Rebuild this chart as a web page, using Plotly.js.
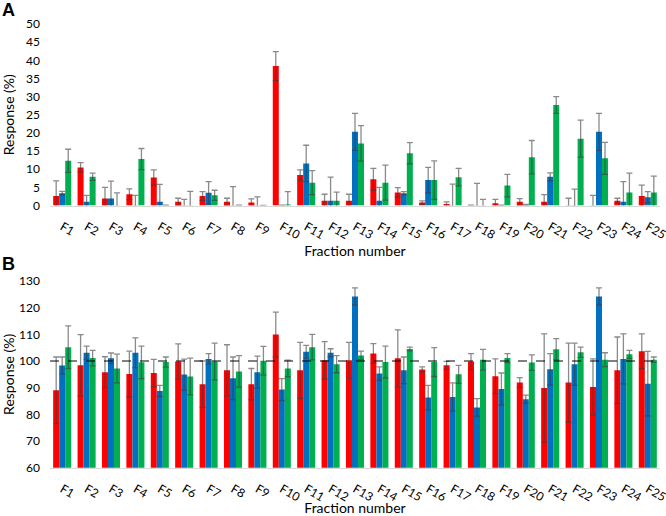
<!DOCTYPE html>
<html><head><meta charset="utf-8">
<script src="https://cdn.plot.ly/plotly-3.0.1.min.js"></script>
<style>html,body{margin:0;padding:0;background:#fff}#chart{width:666px;height:516px}</style>
</head><body><div id="chart"></div>
<script>
const categories = ['F1','F2','F3','F4','F5','F6','F7','F8','F9','F10','F11','F12','F13','F14','F15','F16','F17','F18','F19','F20','F21','F22','F23','F24','F25'];

// Panel A
const aRed      = [2.6,10.5,1.9,3.1,7.7,1.0,2.6,1.0,0.8,38.4,8.4,1.3,1.3,7.2,3.6,0.8,0.4,0.1,0.6,1.0,1.0,0.1,0.1,1.3,2.6];
const aRedErr   = [4.2,1.3,3.1,1.5,2.1,1.0,1.2,1.0,1.0,4.0,1.4,1.8,1.8,3.0,1.3,0.5,0.6,0,1.1,0.9,2.0,1.9,2.7,0.7,3.0];
const aBlue     = [3.4,1.0,1.9,0.1,1.0,0.1,3.5,0.1,0.1,0.1,11.6,1.3,20.3,1.3,3.4,7.0,0.1,0.1,0.1,0.1,7.9,0.1,20.3,1.0,2.3];
const aBlueErr  = [0.5,1.8,4.8,2.7,4.8,1.6,3.1,5.1,2.3,0,5.0,6.5,5.1,3.7,0.4,3.5,5.8,6.0,0,0.2,1.1,4.4,5.1,5.6,1.5];
const aGreen    = [12.3,7.9,0.1,12.8,0.1,0.1,2.8,0.1,0,0.3,6.3,1.3,17.1,6.3,14.4,7.0,7.8,0.1,5.5,13.3,27.7,18.4,13.0,3.6,3.6];
const aGreenErr = [3.2,1.0,3.4,2.9,0,3.8,1.4,0,0,3.5,3.3,2.4,4.9,4.8,2.9,5.3,2.4,1.6,3.1,4.6,2.3,5.1,4.4,5.3,4.5];

// Panel B
const bRed      = [89.0,98.4,95.8,95.1,95.5,99.8,91.3,96.5,91.3,109.9,96.5,100.3,100.3,102.8,101.0,96.8,98.4,99.8,94.3,91.9,89.9,91.9,90.3,96.5,103.7];
const bRedErr   = [12.5,11.5,5.8,8.6,5.1,6.6,8.7,9.6,5.9,8.4,10.5,7.0,6.7,3.7,10.7,1.0,1.5,3.0,6.5,1.9,20.3,14.8,10.5,12.5,6.5];
const bBlue     = [98.3,103.1,101.0,103.1,88.8,94.9,100.8,93.5,95.8,89.3,103.5,103.1,124.2,95.3,96.5,86.3,86.5,82.6,89.5,85.7,96.9,98.8,124.2,100.8,91.5];
const bBlueErr  = [3.2,2.5,2.0,5.6,2.1,5.8,2.0,8.0,6.0,4.1,2.4,1.5,3.2,2.5,5.0,4.6,5.3,3.3,6.0,1.5,5.9,7.9,3.2,9.4,12.1];
const bGreen    = [105.2,101.1,97.2,99.5,99.6,94.2,99.8,96.1,100.1,97.2,105.2,98.8,102.1,99.6,104.5,99.6,95.0,100.5,101.1,99.4,104.4,103.3,100.5,102.5,100.5];
const bGreenErr = [8.0,2.9,5.4,6.1,1.9,6.9,6.9,5.9,5.4,3.1,4.8,3.2,1.6,6.0,0.7,5.4,3.4,3.9,1.7,2.9,4.0,1.9,2.6,1.5,1.0];

const yTicksA = [0,5,10,15,20,25,30,35,40,45,50];
const yTicksB = [60,70,80,90,100,110,120,130];

const RED = '#FF0000', BLUE = '#0070C0', GREEN = '#00B050';
const ERRC = 'rgba(60,60,60,0.6)';

function bar(y, err, color, xa, ya, name) {
  return {
    type: 'bar', x: categories, y: y, xaxis: xa, yaxis: ya, name: name,
    marker: {color: color, line: {width: 0}},
    error_y: {type: 'data', array: err, visible: true, color: ERRC, thickness: 1.3, width: 3},
    showlegend: false, hoverinfo: 'x+y'
  };
}

const data = [
  bar(aRed, aRedErr, RED, 'x', 'y', 'A red'),
  bar(aBlue, aBlueErr, BLUE, 'x', 'y', 'A blue'),
  bar(aGreen, aGreenErr, GREEN, 'x', 'y', 'A green'),
  bar(bRed, bRedErr, RED, 'x2', 'y2', 'B red'),
  bar(bBlue, bBlueErr, BLUE, 'x2', 'y2', 'B blue'),
  bar(bGreen, bGreenErr, GREEN, 'x2', 'y2', 'B green')
];

const FONT = 'Lato, "Open Sans", sans-serif';
const tickFont = {family: FONT, size: 12, color: '#000'};
const titleFont = {family: FONT, size: 14, color: '#000'};

function xaxis(domainAnchor) {
  return {
    type: 'category', anchor: domainAnchor, domain: [0, 1],
    tickangle: 30, tickfont: tickFont, showgrid: false, zeroline: false,
    showline: true, linecolor: '#d9d9d9', linewidth: 1, ticks: '',
    ticklabelstandoff: 9,
    title: {text: 'Fraction number', font: titleFont, standoff: 0}
  };
}

const layout = {
  width: 666, height: 516,
  margin: {l: 50, r: 6, t: 0, b: 0},
  paper_bgcolor: '#fff', plot_bgcolor: '#fff',
  barmode: 'group', bargap: 0.26, bargroupgap: 0,
  font: {family: FONT},
  xaxis: xaxis('y'),
  xaxis2: xaxis('y2'),
  yaxis: {
    domain: [1 - 205.5/516, 1 - 24/516], range: [0, 50], tickvals: yTicksA,
    tickfont: tickFont, showgrid: false, zeroline: false, showline: false, ticks: '',
    ticklabelstandoff: 9,
    title: {text: 'Response (%)', font: titleFont}
  },
  yaxis2: {
    domain: [1 - 467.7/516, 1 - 281/516], range: [60, 130], tickvals: yTicksB,
    tickfont: tickFont, showgrid: false, zeroline: false, showline: false, ticks: '',
    ticklabelstandoff: 9,
    title: {text: 'Response (%)', font: titleFont}
  },
  shapes: [{
    type: 'line', xref: 'x2 domain', yref: 'y2', x0: 0, x1: 1, y0: 100, y1: 100,
    line: {color: '#000', width: 1, dash: 'dash'}
  }],
  annotations: [
    {text: '<b>A</b>', xref: 'paper', yref: 'paper', x: -50/610, y: 1.003, xanchor: 'left', yanchor: 'top',
     showarrow: false, font: {family: 'Liberation Sans, Arial, sans-serif', size: 18, color: '#000'}},
    {text: '<b>B</b>', xref: 'paper', yref: 'paper', x: -50/610, y: 1 - 252/516, xanchor: 'left', yanchor: 'top',
     showarrow: false, font: {family: 'Liberation Sans, Arial, sans-serif', size: 18, color: '#000'}}
  ]
};

Plotly.newPlot('chart', data, layout, {displayModeBar: false, staticPlot: true});
</script>
</body></html>
